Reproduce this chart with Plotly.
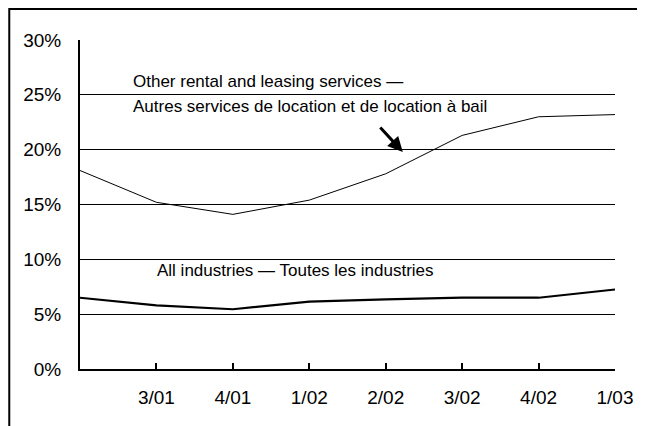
import plotly.graph_objects as go

quarters = ["2/01", "3/01", "4/01", "1/02", "2/02", "3/02", "4/02", "1/03"]
rental = [18.1, 15.2, 14.1, 15.4, 17.8, 21.3, 23.0, 23.2]
all_ind = [6.5, 5.8, 5.45, 6.15, 6.35, 6.5, 6.5, 7.25]
y_ticks = [0, 5, 10, 15, 20, 25, 30]
y_tick_text = ["0%", "5%", "10%", "15%", "20%", "25%", "30%"]

fig = go.Figure()
fig.add_trace(go.Scatter(x=quarters, y=rental, mode="lines",
                         line=dict(color="black", width=1), showlegend=False))
fig.add_trace(go.Scatter(x=quarters, y=all_ind, mode="lines",
                         line=dict(color="black", width=2.2), showlegend=False))

font = "Liberation Sans, Arial, sans-serif"
# page body has an 8px margin; figure is offset accordingly
fig.update_layout(
    width=637, height=418,
    margin=dict(l=72, r=28, t=32, b=57),
    paper_bgcolor="white", plot_bgcolor="white",
    font=dict(family=font, color="black"),
)
fig.update_xaxes(type="category", range=[0, 7], showgrid=False,
                 showline=True, linecolor="black", linewidth=2,
                 tickmode="array", tickvals=quarters[1:], ticktext=quarters[1:],
                 ticks="inside", ticklen=6, tickwidth=1.5, tickcolor="black",
                 tickfont=dict(size=19), ticklabelstandoff=10, zeroline=False)
fig.update_yaxes(range=[0, 30], tickvals=y_ticks, ticktext=y_tick_text,
                 showgrid=True, gridcolor="black", gridwidth=1,
                 showline=True, linecolor="black", linewidth=2,
                 ticks="", tickfont=dict(size=19), ticklabelstandoff=13,
                 zeroline=False)

ann_font = dict(family=font, size=17, color="black")
fig.add_annotation(x=0.665, y=26.2, xref="x", yref="y", text="Other rental and leasing services —",
                   showarrow=False, xanchor="left", yanchor="middle", font=ann_font)
fig.add_annotation(x=0.665, y=23.9, xref="x", yref="y",
                   text="Autres services de location et de location à bail",
                   showarrow=False, xanchor="left", yanchor="middle", font=ann_font)
fig.add_annotation(x=0.978, y=9.0, xref="x", yref="y", text="All industries — Toutes les industries",
                   showarrow=False, xanchor="left", yanchor="middle", font=ann_font)
# arrow
fig.add_annotation(x=(404 - 80) / 76.71, y=(369 - 152) / 10.967, xref="x", yref="y",
                   ax=(380 - 80) / 76.71, ay=(369 - 126) / 10.967, axref="x", ayref="y",
                   text="", showarrow=True, arrowhead=2, arrowsize=1.0, arrowwidth=3,
                   arrowcolor="black")

# outer border: left and top edges only (frame continues past the window)
fig.add_shape(type="path", xref="paper", yref="paper",
              path="M -0.1322,-0.25 L -0.1322,1.0942 L 1.2,1.0942",
              line=dict(color="black", width=2), layer="below")

fig.write_html("out.html")
